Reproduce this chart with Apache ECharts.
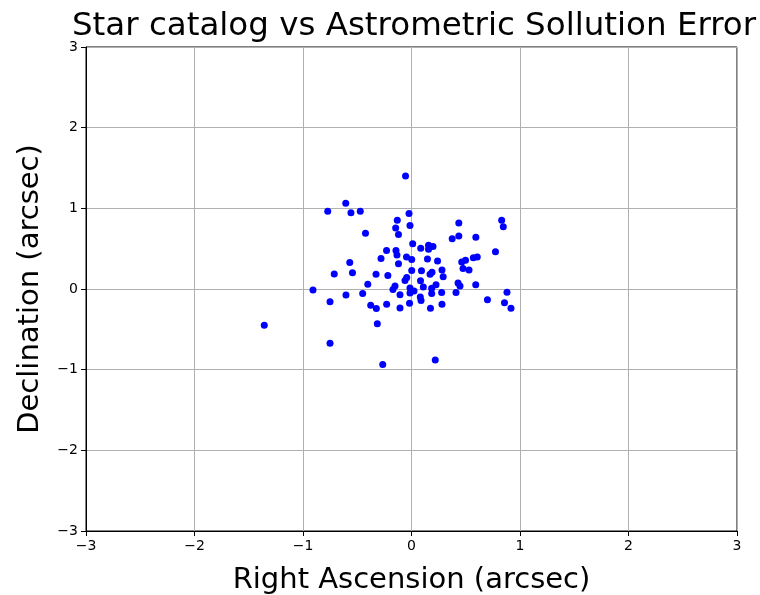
<!DOCTYPE html>
<html>
<head>
<meta charset="utf-8">
<script src="https://cdn.jsdelivr.net/npm/echarts@6/dist/echarts.min.js"></script>
<style>html,body{margin:0;padding:0;background:#fff}#c{width:760px;height:595px}</style>
</head>
<body>
<div id="c"></div>
<script>
const titleText = "Star catalog vs Astrometric Sollution Error";
const xLabel = "Right Ascension (arcsec)";
const yLabel = "Declination (arcsec)";
const xTicks = [-3, -2, -1, 0, 1, 2, 3];
const yTicks = [-3, -2, -1, 0, 1, 2, 3];
const raErr = [
-0.055,-0.606,-0.772,-0.558,-0.472,-0.023,-0.131,0.436,0.831,0.846,
-0.014,-0.146,-0.120,-0.424,0.375,0.436,0.593,0.011,0.085,0.157,
0.198,0.157,-0.230,-0.143,-0.134,-0.281,-0.046,0.002,0.147,0.240,
0.774,0.570,0.606,0.463,0.498,-0.120,-0.569,-0.712,-0.544,-0.327,
-0.218,0.002,0.092,0.189,0.171,0.281,0.292,0.475,0.530,-0.044,
-0.060,0.083,0.429,0.447,0.592,0.226,-0.403,-0.152,-0.171,-0.908,
-0.450,-0.604,-0.106,-0.014,0.023,-0.014,0.109,0.186,0.186,0.278,
0.410,0.081,0.088,-0.751,-0.376,-0.324,-0.229,-0.018,-0.106,0.175,
0.281,0.700,0.880,0.857,0.917,-0.315,-1.357,-0.751,-0.265,0.219
];
const decErr = [
1.400,1.062,0.963,0.946,0.963,0.936,0.852,0.818,0.853,0.771,
0.787,0.756,0.676,0.690,0.624,0.657,0.641,0.562,0.506,0.543,
0.527,0.492,0.477,0.477,0.421,0.378,0.397,0.366,0.372,0.347,
0.461,0.388,0.397,0.335,0.357,0.314,0.329,0.186,0.202,0.183,
0.167,0.229,0.226,0.208,0.182,0.236,0.152,0.254,0.236,0.143,
0.105,0.103,0.074,0.037,0.053,0.053,0.060,0.037,-0.006,-0.012,
-0.057,-0.074,-0.072,0.012,-0.025,-0.050,0.025,0.009,-0.056,-0.043,
-0.043,-0.099,-0.143,-0.157,-0.201,-0.242,-0.188,-0.177,-0.236,-0.239,
-0.190,-0.134,-0.041,-0.171,-0.239,-0.430,-0.450,-0.673,-0.936,-0.880
];

const points = raErr.map((x, i) => [x, decErr[i]]);
const fmt = v => String(v).replace('-', '\u2212');
const font = 'DejaVu Sans';

const chart = echarts.init(document.getElementById('c'), null, {renderer: 'canvas'});
chart.setOption({
  animation: false,
  backgroundColor: '#fff',
  title: {
    text: titleText, left: 409, textAlign: 'center', top: 5,
    textStyle: {fontFamily: font, fontSize: 32.5, fontWeight: 'normal', color: '#000'}
  },
  grid: {left: 86, right: 23, top: 47, bottom: 64, show: true, borderColor: '#000', borderWidth: 1, backgroundColor: 'transparent', containLabel: false, outerBoundsMode: 'none'},
  xAxis: {
    type: 'value', min: xTicks[0], max: xTicks[xTicks.length - 1], interval: 1,
    name: xLabel, nameLocation: 'middle', nameGap: 35,
    nameTextStyle: {fontFamily: font, fontSize: 29, color: '#000'},
    axisLine: {show: true, onZero: false, lineStyle: {color: '#000', width: 1}},
    axisTick: {show: true, length: 5, lineStyle: {color: '#000'}},
    axisLabel: {fontFamily: font, fontSize: 14, color: '#000', margin: 8, formatter: fmt},
    splitLine: {show: true, lineStyle: {color: '#b0b0b0', width: 1}}
  },
  yAxis: {
    type: 'value', min: yTicks[0], max: yTicks[yTicks.length - 1], interval: 1,
    name: yLabel, nameLocation: 'middle', nameGap: 41,
    nameTextStyle: {fontFamily: font, fontSize: 29, color: '#000'},
    axisLine: {show: true, onZero: false, lineStyle: {color: '#000', width: 1}},
    axisTick: {show: true, length: 5, lineStyle: {color: '#000'}},
    axisLabel: {fontFamily: font, fontSize: 14, color: '#000', margin: 8, formatter: fmt},
    splitLine: {show: true, lineStyle: {color: '#b0b0b0', width: 1}}
  },
  series: [{
    type: 'scatter', data: points, symbol: 'circle', symbolSize: 7,
    itemStyle: {color: '#0000ff', opacity: 1}
  }]
});
</script>
</body>
</html>
